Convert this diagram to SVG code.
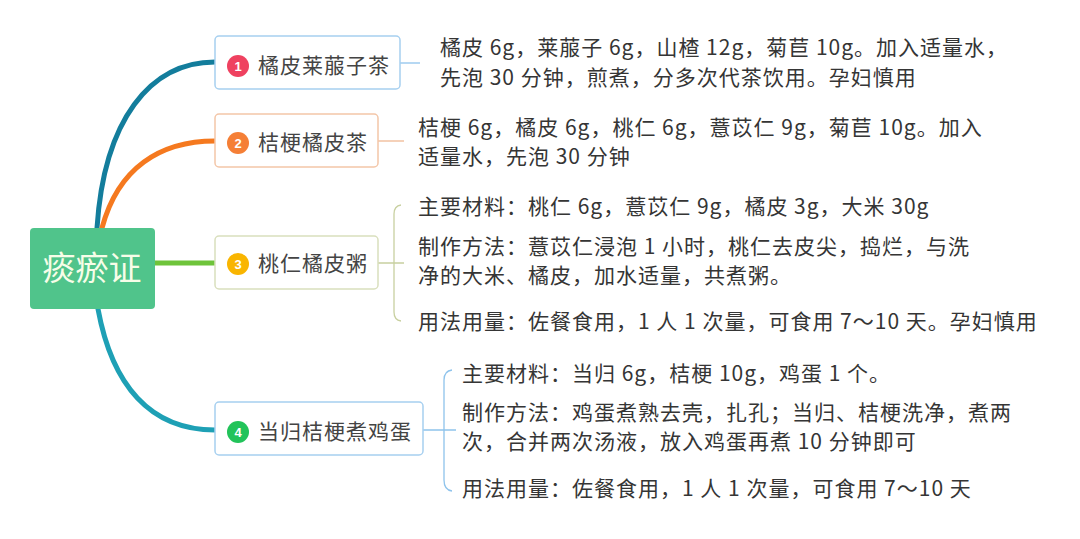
<svg xmlns="http://www.w3.org/2000/svg" width="1080" height="539" viewBox="0 0 1080 539">
<style>
.t{font-family:"Noto Sans CJK SC","Liberation Sans",sans-serif;font-size:21px;fill:#353535;letter-spacing:1px}
.title{font-family:"Noto Sans CJK SC","Liberation Sans",sans-serif;font-size:21px;fill:#444;letter-spacing:1px}
.num{font-family:"Liberation Sans",sans-serif;font-size:13px;font-weight:bold;fill:#fff;text-anchor:middle}
.box{fill:#fff;stroke-width:1.5}
.br{fill:none;stroke-width:5;stroke-linecap:round}
.thin{fill:none;stroke-width:1.3}
</style>
<rect width="1080" height="539" fill="#fff"/>
<g id="connectors">
<path class="br" d="M97,228 C104,120 150,62 215,62" stroke="#137d9c"/>
<path class="br" d="M102,228 C118,168 160,141 215,141" stroke="#f5791f"/>
<path class="br" d="M155,263 L215,263" stroke="#6ec43a" stroke-linecap="butt"/>
<path class="br" d="M98,309 C112,385 150,430 215,430" stroke="#1ea0b5"/>
<path class="thin" d="M400,63 L420,63" stroke="#8ec3ec"/>
<path class="thin" d="M378,141 L404,141" stroke="#f0b894"/>
<path class="thin" d="M378,263 L404,263 M401,205 Q394,206 394,214 L394,312 Q394,320 401,321" stroke="#c8d0a0"/>
<path class="thin" d="M423,430 L456,430 M452,370 Q444,371 444,380 L444,480 Q444,490 452,491" stroke="#8ec3ec"/>
</g>
<g id="root">
<rect x="30" y="228" width="125" height="81" rx="4" fill="#50c48b"/>
<text x="92" y="280" text-anchor="middle" font-family="Noto Sans CJK SC, sans-serif" font-size="33" fill="#f7fde8">痰瘀证</text>
</g>
<g id="node1">
<rect class="box" x="215" y="36" width="185" height="53" rx="4" stroke="#a7d0f0"/>
<circle cx="238" cy="66" r="11" fill="#ef4160"/>
<text class="num" x="238" y="71">1</text>
<text class="title" x="258" y="73">橘皮莱菔子茶</text>
<text class="t" x="440" y="55">橘皮 6g，莱菔子 6g，山楂 12g，菊苣 10g。加入适量水，</text>
<text class="t" x="440" y="85">先泡 30 分钟，煎煮，分多次代茶饮用。孕妇慎用</text>
</g>
<g id="node2">
<rect class="box" x="215" y="114" width="163" height="53" rx="4" stroke="#f3c6a8"/>
<circle cx="238" cy="143" r="11" fill="#f57f36"/>
<text class="num" x="238" y="148">2</text>
<text class="title" x="258" y="150">桔梗橘皮茶</text>
<text class="t" x="418" y="135">桔梗 6g，橘皮 6g，桃仁 6g，薏苡仁 9g，菊苣 10g。加入</text>
<text class="t" x="418" y="164">适量水，先泡 30 分钟</text>
</g>
<g id="node3">
<rect class="box" x="215" y="236" width="163" height="53" rx="4" stroke="#d9dfbd"/>
<circle cx="238" cy="264" r="11" fill="#f9b500"/>
<text class="num" x="238" y="269">3</text>
<text class="title" x="258" y="271">桃仁橘皮粥</text>
<text class="t" x="418" y="214">主要材料：桃仁 6g，薏苡仁 9g，橘皮 3g，大米 30g</text>
<text class="t" x="418" y="254">制作方法：薏苡仁浸泡 1 小时，桃仁去皮尖，捣烂，与洗</text>
<text class="t" x="418" y="283">净的大米、橘皮，加水适量，共煮粥。</text>
<text class="t" x="418" y="329">用法用量：佐餐食用，1 人 1 次量，可食用 7～10 天。孕妇慎用</text>
</g>
<g id="node4">
<rect class="box" x="215" y="402" width="208" height="53" rx="4" stroke="#a7d0f0"/>
<circle cx="238" cy="432" r="11" fill="#22c35a"/>
<text class="num" x="238" y="437">4</text>
<text class="title" x="258" y="439">当归桔梗煮鸡蛋</text>
<text class="t" x="462" y="381">主要材料：当归 6g，桔梗 10g，鸡蛋 1 个。</text>
<text class="t" x="462" y="420">制作方法：鸡蛋煮熟去壳，扎孔；当归、桔梗洗净，煮两</text>
<text class="t" x="462" y="449">次，合并两次汤液，放入鸡蛋再煮 10 分钟即可</text>
<text class="t" x="462" y="496">用法用量：佐餐食用，1 人 1 次量，可食用 7～10 天</text>
</g>
</svg>
